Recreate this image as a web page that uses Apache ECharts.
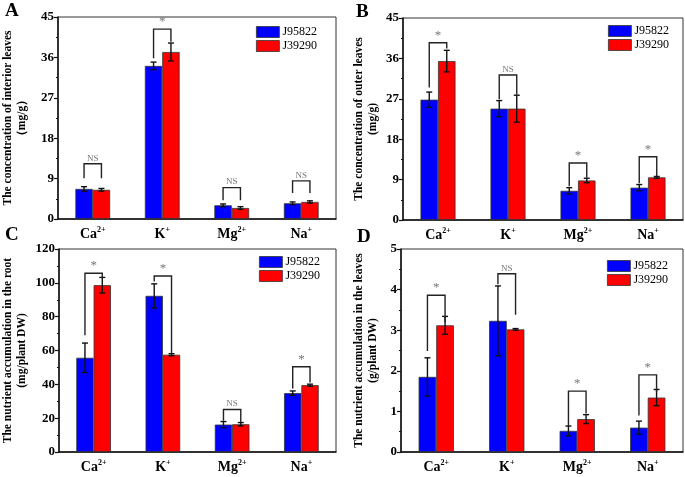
<!DOCTYPE html>
<html>
<head>
<meta charset="utf-8">
<script src="https://cdn.jsdelivr.net/npm/echarts@6/dist/echarts.min.js"></script>
<style>
html, body, #main { width: 685px; height: 477px; margin: 0; background: #fff; }
</style>
</head>
<body>
<div id="main"></div>
<script>
// ions on the category axis, with their charge as superscript
const ions = ['Ca', 'K', 'Mg', 'Na'];
const charges = ['2+', '+', '2+', '+'];
const seriesNames = ['J95822', 'J39290'];

// A: interior leaves (mg/g)
const aBlue = [6.7, 34.1, 3.05, 3.5];
const aBlueErr = [0.5, 0.85, 0.3, 0.3];
const aRed = [6.5, 37.2, 2.45, 3.8];
const aRedErr = [0.3, 2.0, 0.3, 0.25];
const aBrackets = [[12.3, 9.1, 9.1], [42.3, 35.8, 39.5], [7.0, 4.2, 4.2], [8.5, 5.8, 5.8]];
const aSig = ['NS', '*', 'NS', 'NS'];

// B: outer leaves (mg/g)
const bBlue = [26.8, 24.8, 6.5, 7.2];
const bBlueErr = [1.7, 1.8, 0.7, 0.7];
const bRed = [35.4, 24.8, 8.8, 9.5];
const bRedErr = [2.4, 3.0, 0.5, 0.2];
const bBrackets = [[39.5, 29.5, 38.2], [32.3, 26.9, 27.9], [12.7, 7.5, 9.4], [14.1, 8.2, 9.7]];
const bSig = ['*', 'NS', '*', '*'];

// C: accumulation in the root (mg/plant DW)
const cBlue = [55.7, 92.3, 16.2, 34.8];
const cBlueErr = [8.7, 7.1, 1.8, 1.3];
const cRed = [98.6, 57.5, 16.4, 39.5];
const cRedErr = [4.6, 0.6, 1.0, 0.6];
const cBrackets = [[105.7, 69, 102.8], [104, 100.8, 58.3], [25.1, 18.4, 17.8], [50.4, 37.5, 41.1]];
const cSig = ['*', '*', 'NS', '*'];

// D: accumulation in the leaves (g/plant DW)
const dBlue = [1.85, 3.23, 0.52, 0.6];
const dBlueErr = [0.47, 0.86, 0.12, 0.16];
const dRed = [3.12, 3.02, 0.81, 1.34];
const dRedErr = [0.22, 0.02, 0.11, 0.2];
const dBrackets = [[3.86, 2.49, 3.2], [4.39, 4.13, 3.38], [1.5, 0.62, 0.95], [1.9, 0.9, 1.48]];
const dSig = ['*', 'NS', '*', '*'];

const serif = 'Liberation Serif';
const BAR_FRAC = 0.25;

function errorItem(params, api) {
    const idx = api.value(0), v = api.value(1), e = api.value(2), side = api.value(3);
    const bw = api.size([1, 0])[0];
    const x = api.coord([idx, v])[0] + side * bw * BAR_FRAC / 2;
    const yt = api.coord([idx, v + e])[1];
    const yb = api.coord([idx, v - e])[1];
    const st = { stroke: '#111', lineWidth: 1.4 };
    return { type: 'group', children: [
        { type: 'line', shape: { x1: x, y1: yt, x2: x, y2: yb }, style: st },
        { type: 'line', shape: { x1: x - 3, y1: yt, x2: x + 3, y2: yt }, style: st },
        { type: 'line', shape: { x1: x - 3, y1: yb, x2: x + 3, y2: yb }, style: st }
    ]};
}

function bracketItem(sig) {
    return function (params, api) {
        const idx = api.value(0);
        const bw = api.size([1, 0])[0];
        const cx = api.coord([idx, 0])[0];
        const xl = cx - bw * BAR_FRAC / 2, xr = cx + bw * BAR_FRAC / 2;
        const yTop = api.coord([idx, api.value(1)])[1];
        const yL = api.coord([idx, api.value(2)])[1];
        const yR = api.coord([idx, api.value(3)])[1];
        const txt = sig[params.dataIndex];
        return { type: 'group', children: [
            { type: 'polyline', shape: { points: [[xl, yL], [xl, yTop], [xr, yTop], [xr, yR]] },
              style: { stroke: '#222', lineWidth: 1.4, fill: null } },
            { type: 'text', x: cx, y: yTop - 1,
              style: { text: txt, align: 'center', verticalAlign: 'bottom',
                       font: txt === '*' ? '13px "Liberation Serif"' : '9px "Liberation Serif"',
                       fill: '#777' } }
        ]};
    };
}

const grids = [], xAxes = [], yAxes = [], series = [], legends = [];

function panel(g, box, yMax, yInt, yName, nameGap, blue, blueErr, red, redErr, brackets, sig, legendPos) {
    grids.push(Object.assign({ show: true, borderColor: '#333', borderWidth: 1, containLabel: false }, box));
    xAxes.push({
        type: 'category', gridIndex: g, data: ions, position: 'bottom',
        axisLine: { lineStyle: { color: '#111', width: 1.5 } },
        axisTick: { alignWithLabel: true, length: 3, lineStyle: { color: '#111', width: 1.2 } },
        axisLabel: {
            margin: 7, interval: 0,
            formatter: (v, i) => '{b|' + v + '}{s|' + charges[i] + '}',
            rich: {
                b: { fontFamily: serif, fontWeight: 'bold', fontSize: 14, color: '#000', lineHeight: 16 },
                s: { fontFamily: serif, fontWeight: 'bold', fontSize: 8, color: '#000', verticalAlign: 'top', lineHeight: 16 }
            }
        }
    });
    xAxes.push({
        type: 'category', gridIndex: g, data: ions, position: 'bottom',
        axisLine: { show: false },
        axisTick: { inside: true, length: 3, lineStyle: { color: '#111', width: 1.2 } },
        axisLabel: { show: false }
    });
    yAxes.push({
        type: 'value', gridIndex: g, min: 0, max: yMax, interval: yInt,
        name: yName, nameLocation: 'middle', nameRotate: 90, nameGap: nameGap,
        nameTextStyle: { fontFamily: serif, fontWeight: 'bold', fontSize: 11.5, lineHeight: 14, color: '#000' },
        axisLine: { show: true, lineStyle: { color: '#111', width: 1.5 } },
        axisTick: { show: true, length: 4, lineStyle: { color: '#111', width: 1.2 } },
        minorTick: { show: true, splitNumber: 2, length: 2, lineStyle: { color: '#111', width: 1 } },
        splitLine: { show: false },
        axisLabel: { margin: 4, fontFamily: serif, fontWeight: 'bold', fontSize: 13, color: '#000' }
    });
    const xi = g * 2;
    series.push({
        name: seriesNames[0], type: 'bar', xAxisIndex: xi, yAxisIndex: g, data: blue,
        barWidth: '25%', barGap: '0%',
        itemStyle: { color: '#0000FF', borderColor: '#333', borderWidth: 0.8 }
    });
    series.push({
        name: seriesNames[1], type: 'bar', xAxisIndex: xi, yAxisIndex: g, data: red,
        barWidth: '25%', barGap: '0%',
        itemStyle: { color: '#FF0000', borderColor: '#333', borderWidth: 0.8 }
    });
    const errData = [];
    blue.forEach((v, i) => errData.push([i, v, blueErr[i], -1]));
    red.forEach((v, i) => errData.push([i, v, redErr[i], 1]));
    series.push({ type: 'custom', xAxisIndex: xi, yAxisIndex: g, z: 5, silent: true,
                  renderItem: errorItem, data: errData });
    series.push({ type: 'custom', xAxisIndex: xi, yAxisIndex: g, z: 5, silent: true,
                  renderItem: bracketItem(sig),
                  data: brackets.map((b, i) => [i, b[0], b[1], b[2]]) });
    legends.push(Object.assign({
        data: seriesNames, orient: 'vertical', icon: 'rect',
        itemWidth: 23, itemHeight: 11, itemGap: 2,
        textStyle: { fontFamily: serif, fontSize: 12, color: '#000', padding: [0, 0, 0, -2] },
        itemStyle: { borderColor: '#333', borderWidth: 0.8 }
    }, legendPos));
}

panel(0, { left: 57, right: 349, top: 17, bottom: 258 }, 45, 9,
      'The concentration of interior leaves\n（mg/g）', 29,
      aBlue, aBlueErr, aRed, aRedErr, aBrackets, aSig, { left: 251, top: 21 });
panel(1, { left: 403, right: 2, top: 18, bottom: 257 }, 45, 9,
      'The concentration of outer leaves\n(mg/g)', 23,
      bBlue, bBlueErr, bRed, bRedErr, bBrackets, bSig, { left: 603, top: 20 });
panel(2, { left: 56, right: 349, top: 249, bottom: 25 }, 120, 20,
      'The nutrient accumulation in the root\n(mg/plant DW)', 30,
      cBlue, cBlueErr, cRed, cRedErr, cBrackets, cSig, { left: 254, top: 251 });
panel(3, { left: 401, right: 2, top: 249, bottom: 25 }, 5, 1,
      'The nutrient accumulation in the leaves\n(g/plant DW)', 21,
      dBlue, dBlueErr, dRed, dRedErr, dBrackets, dSig, { left: 602, top: 255 });

const letterStyle = { fontFamily: serif, fontWeight: 'bold', fontSize: 19, color: '#000' };
const chart = echarts.init(document.getElementById('main'));
chart.setOption({
    animation: false,
    title: [
        { text: 'A', left: 0, top: -3, textStyle: letterStyle },
        { text: 'B', left: 351, top: -2, textStyle: letterStyle },
        { text: 'C', left: 0, top: 221, textStyle: letterStyle },
        { text: 'D', left: 352, top: 223, textStyle: letterStyle }
    ],
    legend: legends,
    grid: grids,
    xAxis: xAxes,
    yAxis: yAxes,
    series: series
});
</script>
</body>
</html>
